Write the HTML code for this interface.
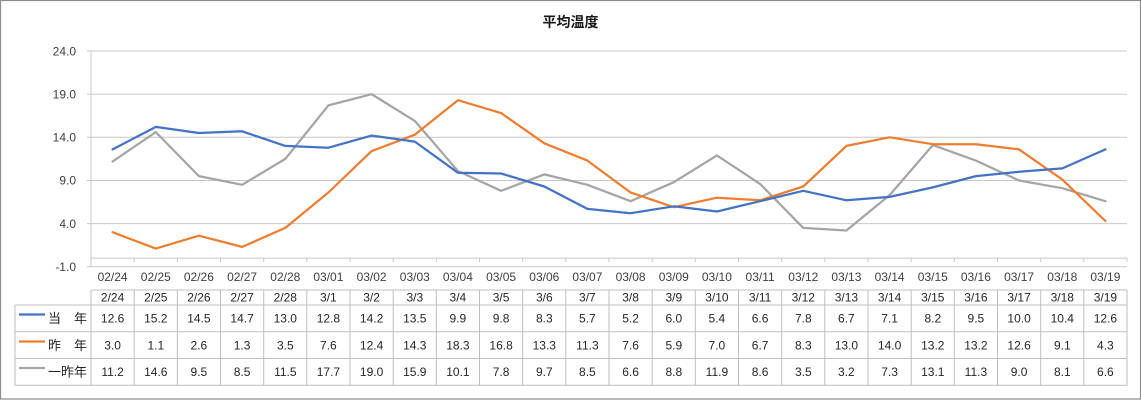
<!DOCTYPE html>
<html><head><meta charset="utf-8"><style>
html,body{margin:0;padding:0;background:#fff;}
svg{display:block;font-family:"Liberation Sans","Noto Sans CJK JP",sans-serif;}
</style></head><body>
<svg width="1141" height="400" viewBox="0 0 1141 400" xmlns="http://www.w3.org/2000/svg">
<rect x="0.5" y="0.5" width="1140" height="398.5" fill="#fff" stroke="#8c8c8c" stroke-width="1.2"/>
<text x="570.5" y="27" text-anchor="middle" font-size="14" font-weight="bold" fill="#1a1a1a">平均温度</text>
<!-- gridlines -->
<g stroke="#c8c8c8" stroke-width="1">
<line x1="87" y1="51" x2="1127" y2="51"/>
<line x1="87" y1="94.15" x2="1127" y2="94.15"/>
<line x1="87" y1="137.3" x2="1127" y2="137.3"/>
<line x1="87" y1="180.45" x2="1127" y2="180.45"/>
<line x1="87" y1="223.6" x2="1127" y2="223.6"/>
<line x1="87" y1="266.75" x2="1127" y2="266.75"/>
<line x1="91" y1="51" x2="91" y2="266.75"/>
<line x1="91" y1="258.1" x2="1127" y2="258.1"/>
</g>
<g stroke="#c8c8c8" stroke-width="1">
<line x1="134.2" y1="258" x2="134.2" y2="262"/><line x1="177.3" y1="258" x2="177.3" y2="262"/><line x1="220.5" y1="258" x2="220.5" y2="262"/><line x1="263.7" y1="258" x2="263.7" y2="262"/><line x1="306.8" y1="258" x2="306.8" y2="262"/><line x1="350" y1="258" x2="350" y2="262"/><line x1="393.2" y1="258" x2="393.2" y2="262"/><line x1="436.3" y1="258" x2="436.3" y2="262"/><line x1="479.5" y1="258" x2="479.5" y2="262"/><line x1="522.7" y1="258" x2="522.7" y2="262"/><line x1="565.8" y1="258" x2="565.8" y2="262"/><line x1="609" y1="258" x2="609" y2="262"/><line x1="652.2" y1="258" x2="652.2" y2="262"/><line x1="695.3" y1="258" x2="695.3" y2="262"/><line x1="738.5" y1="258" x2="738.5" y2="262"/><line x1="781.7" y1="258" x2="781.7" y2="262"/><line x1="824.8" y1="258" x2="824.8" y2="262"/><line x1="868" y1="258" x2="868" y2="262"/><line x1="911.2" y1="258" x2="911.2" y2="262"/><line x1="954.3" y1="258" x2="954.3" y2="262"/><line x1="997.5" y1="258" x2="997.5" y2="262"/><line x1="1040.7" y1="258" x2="1040.7" y2="262"/><line x1="1083.8" y1="258" x2="1083.8" y2="262"/><line x1="1127" y1="258" x2="1127" y2="262"/>
</g>
<!-- y labels -->
<g font-size="12" fill="#404040" text-anchor="end">
<text x="76" y="55.3">24.0</text>
<text x="76" y="98.4">19.0</text>
<text x="76" y="141.6">14.0</text>
<text x="76" y="184.7">9.0</text>
<text x="76" y="227.9">4.0</text>
<text x="76" y="271">-1.0</text>
</g>
<!-- series -->
<g fill="none" stroke-width="2.25" stroke-linejoin="round" stroke-linecap="round">
<polyline stroke="#A5A5A5" points="112.6,161.5 155.8,132.1 198.9,176.1 242.1,184.8 285.3,158.9 328.4,105.4 371.6,94.2 414.8,120.9 457.9,171.0 501.1,190.8 544.3,174.4 587.4,184.8 630.6,201.2 673.8,182.2 716.9,155.4 760.1,183.9 803.3,227.9 846.4,230.5 889.6,195.1 932.8,145.1 975.9,160.6 1019.1,180.5 1062.3,188.2 1105.4,201.2"/>
<polyline stroke="#ED7D31" points="112.6,232.2 155.8,248.6 198.9,235.7 242.1,246.9 285.3,227.9 328.4,192.5 371.6,151.1 414.8,134.7 457.9,100.2 501.1,113.1 544.3,143.3 587.4,160.6 630.6,192.5 673.8,207.2 716.9,197.7 760.1,200.3 803.3,186.5 846.4,145.9 889.6,137.3 932.8,144.2 975.9,144.2 1019.1,149.4 1062.3,179.6 1105.4,221.0"/>
<polyline stroke="#4472C4" points="112.6,149.4 155.8,126.9 198.9,133.0 242.1,131.3 285.3,145.9 328.4,147.7 371.6,135.6 414.8,141.6 457.9,172.7 501.1,173.5 544.3,186.5 587.4,208.9 630.6,213.2 673.8,206.3 716.9,211.5 760.1,201.2 803.3,190.8 846.4,200.3 889.6,196.9 932.8,187.4 975.9,176.1 1019.1,171.8 1062.3,168.4 1105.4,149.4"/>
</g>
<!-- category labels -->
<g font-size="12" fill="#404040" text-anchor="middle">
<text x="112.6" y="281">02/24</text><text x="155.8" y="281">02/25</text><text x="198.9" y="281">02/26</text><text x="242.1" y="281">02/27</text><text x="285.3" y="281">02/28</text><text x="328.4" y="281">03/01</text><text x="371.6" y="281">03/02</text><text x="414.8" y="281">03/03</text><text x="457.9" y="281">03/04</text><text x="501.1" y="281">03/05</text><text x="544.3" y="281">03/06</text><text x="587.4" y="281">03/07</text><text x="630.6" y="281">03/08</text><text x="673.8" y="281">03/09</text><text x="716.9" y="281">03/10</text><text x="760.1" y="281">03/11</text><text x="803.3" y="281">03/12</text><text x="846.4" y="281">03/13</text><text x="889.6" y="281">03/14</text><text x="932.8" y="281">03/15</text><text x="975.9" y="281">03/16</text><text x="1019.1" y="281">03/17</text><text x="1062.3" y="281">03/18</text><text x="1105.4" y="281">03/19</text>
</g>
<!-- table grid -->
<g stroke="#bfbfbf" stroke-width="1" fill="none">
<line x1="91" y1="290" x2="1127" y2="290"/>
<line x1="15" y1="305" x2="1127" y2="305"/>
<line x1="15" y1="331.7" x2="1127" y2="331.7"/>
<line x1="15" y1="358.5" x2="1127" y2="358.5"/>
<line x1="15" y1="385.3" x2="1127" y2="385.3"/>
<line x1="15" y1="305" x2="15" y2="385.3"/>
<line x1="91" y1="290" x2="91" y2="385.3"/><line x1="134.2" y1="290" x2="134.2" y2="385.3"/><line x1="177.3" y1="290" x2="177.3" y2="385.3"/><line x1="220.5" y1="290" x2="220.5" y2="385.3"/><line x1="263.7" y1="290" x2="263.7" y2="385.3"/><line x1="306.8" y1="290" x2="306.8" y2="385.3"/><line x1="350" y1="290" x2="350" y2="385.3"/><line x1="393.2" y1="290" x2="393.2" y2="385.3"/><line x1="436.3" y1="290" x2="436.3" y2="385.3"/><line x1="479.5" y1="290" x2="479.5" y2="385.3"/><line x1="522.7" y1="290" x2="522.7" y2="385.3"/><line x1="565.8" y1="290" x2="565.8" y2="385.3"/><line x1="609" y1="290" x2="609" y2="385.3"/><line x1="652.2" y1="290" x2="652.2" y2="385.3"/><line x1="695.3" y1="290" x2="695.3" y2="385.3"/><line x1="738.5" y1="290" x2="738.5" y2="385.3"/><line x1="781.7" y1="290" x2="781.7" y2="385.3"/><line x1="824.8" y1="290" x2="824.8" y2="385.3"/><line x1="868" y1="290" x2="868" y2="385.3"/><line x1="911.2" y1="290" x2="911.2" y2="385.3"/><line x1="954.3" y1="290" x2="954.3" y2="385.3"/><line x1="997.5" y1="290" x2="997.5" y2="385.3"/><line x1="1040.7" y1="290" x2="1040.7" y2="385.3"/><line x1="1083.8" y1="290" x2="1083.8" y2="385.3"/><line x1="1127" y1="290" x2="1127" y2="385.3"/>
</g>
<!-- legend keys -->
<g stroke-width="2.25">
<line x1="19" y1="314.5" x2="45" y2="314.5" stroke="#4472C4"/>
<line x1="19" y1="341.5" x2="45" y2="341.5" stroke="#ED7D31"/>
<line x1="19" y1="368" x2="45" y2="368" stroke="#A5A5A5"/>
</g>
<g font-size="13" fill="#262626" text-anchor="end">
<text x="87" y="323">当　年</text>
<text x="87" y="350">昨　年</text>
<text x="87" y="376.5">一昨年</text>
</g>
<!-- header row -->
<g font-size="12" fill="#262626" text-anchor="middle">
<text x="112.6" y="301.5">2/24</text><text x="155.8" y="301.5">2/25</text><text x="198.9" y="301.5">2/26</text><text x="242.1" y="301.5">2/27</text><text x="285.3" y="301.5">2/28</text><text x="328.4" y="301.5">3/1</text><text x="371.6" y="301.5">3/2</text><text x="414.8" y="301.5">3/3</text><text x="457.9" y="301.5">3/4</text><text x="501.1" y="301.5">3/5</text><text x="544.3" y="301.5">3/6</text><text x="587.4" y="301.5">3/7</text><text x="630.6" y="301.5">3/8</text><text x="673.8" y="301.5">3/9</text><text x="716.9" y="301.5">3/10</text><text x="760.1" y="301.5">3/11</text><text x="803.3" y="301.5">3/12</text><text x="846.4" y="301.5">3/13</text><text x="889.6" y="301.5">3/14</text><text x="932.8" y="301.5">3/15</text><text x="975.9" y="301.5">3/16</text><text x="1019.1" y="301.5">3/17</text><text x="1062.3" y="301.5">3/18</text><text x="1105.4" y="301.5">3/19</text>
</g>
<!-- row 1 -->
<g font-size="12" fill="#262626" text-anchor="middle">
<text x="112.6" y="322.5">12.6</text><text x="155.8" y="322.5">15.2</text><text x="198.9" y="322.5">14.5</text><text x="242.1" y="322.5">14.7</text><text x="285.3" y="322.5">13.0</text><text x="328.4" y="322.5">12.8</text><text x="371.6" y="322.5">14.2</text><text x="414.8" y="322.5">13.5</text><text x="457.9" y="322.5">9.9</text><text x="501.1" y="322.5">9.8</text><text x="544.3" y="322.5">8.3</text><text x="587.4" y="322.5">5.7</text><text x="630.6" y="322.5">5.2</text><text x="673.8" y="322.5">6.0</text><text x="716.9" y="322.5">5.4</text><text x="760.1" y="322.5">6.6</text><text x="803.3" y="322.5">7.8</text><text x="846.4" y="322.5">6.7</text><text x="889.6" y="322.5">7.1</text><text x="932.8" y="322.5">8.2</text><text x="975.9" y="322.5">9.5</text><text x="1019.1" y="322.5">10.0</text><text x="1062.3" y="322.5">10.4</text><text x="1105.4" y="322.5">12.6</text>
</g>
<!-- row 2 -->
<g font-size="12" fill="#262626" text-anchor="middle">
<text x="112.6" y="349.3">3.0</text><text x="155.8" y="349.3">1.1</text><text x="198.9" y="349.3">2.6</text><text x="242.1" y="349.3">1.3</text><text x="285.3" y="349.3">3.5</text><text x="328.4" y="349.3">7.6</text><text x="371.6" y="349.3">12.4</text><text x="414.8" y="349.3">14.3</text><text x="457.9" y="349.3">18.3</text><text x="501.1" y="349.3">16.8</text><text x="544.3" y="349.3">13.3</text><text x="587.4" y="349.3">11.3</text><text x="630.6" y="349.3">7.6</text><text x="673.8" y="349.3">5.9</text><text x="716.9" y="349.3">7.0</text><text x="760.1" y="349.3">6.7</text><text x="803.3" y="349.3">8.3</text><text x="846.4" y="349.3">13.0</text><text x="889.6" y="349.3">14.0</text><text x="932.8" y="349.3">13.2</text><text x="975.9" y="349.3">13.2</text><text x="1019.1" y="349.3">12.6</text><text x="1062.3" y="349.3">9.1</text><text x="1105.4" y="349.3">4.3</text>
</g>
<!-- row 3 -->
<g font-size="12" fill="#262626" text-anchor="middle">
<text x="112.6" y="376">11.2</text><text x="155.8" y="376">14.6</text><text x="198.9" y="376">9.5</text><text x="242.1" y="376">8.5</text><text x="285.3" y="376">11.5</text><text x="328.4" y="376">17.7</text><text x="371.6" y="376">19.0</text><text x="414.8" y="376">15.9</text><text x="457.9" y="376">10.1</text><text x="501.1" y="376">7.8</text><text x="544.3" y="376">9.7</text><text x="587.4" y="376">8.5</text><text x="630.6" y="376">6.6</text><text x="673.8" y="376">8.8</text><text x="716.9" y="376">11.9</text><text x="760.1" y="376">8.6</text><text x="803.3" y="376">3.5</text><text x="846.4" y="376">3.2</text><text x="889.6" y="376">7.3</text><text x="932.8" y="376">13.1</text><text x="975.9" y="376">11.3</text><text x="1019.1" y="376">9.0</text><text x="1062.3" y="376">8.1</text><text x="1105.4" y="376">6.6</text>
</g>
</svg>
</body></html>
